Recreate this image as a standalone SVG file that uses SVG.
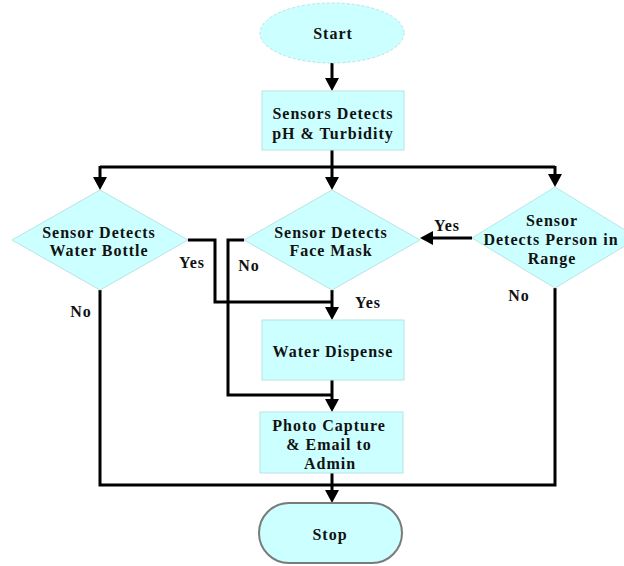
<svg xmlns="http://www.w3.org/2000/svg" width="624" height="566" viewBox="0 0 624 566">
<defs>
<marker id="arr" viewBox="0 0 13 14" refX="9" refY="7" markerWidth="13" markerHeight="14" markerUnits="userSpaceOnUse" orient="auto">
<path d="M0,0 L13,7 L0,14 z" fill="#000"/>
</marker>
<style>
.n{fill:#ccffff;stroke:#b8e4e4;stroke-width:1}
.t{font-family:"Liberation Serif","Times New Roman",serif;font-weight:bold;font-size:16px;letter-spacing:1px;fill:#111;text-anchor:middle;dominant-baseline:central}
.l{font-family:"Liberation Serif","Times New Roman",serif;font-weight:bold;font-size:16px;letter-spacing:1px;fill:#111;text-anchor:middle;dominant-baseline:central}
.c{fill:none;stroke:#000;stroke-width:3}
.a{marker-end:url(#arr)}
</style>
</defs>
<rect width="624" height="566" fill="#fff"/>
<g id="connectors">
<path class="c a" d="M332,63 V87"/>
<path class="c" d="M332,150 V167"/>
<path class="c" d="M100,167 H555"/>
<path class="c a" d="M100,166 V186"/>
<path class="c a" d="M555,166 V183"/>
<path class="c a" d="M332,167 V186"/>
<path class="c a" d="M472,238 H424"/>
<path class="c" d="M188,240 H215 V302 H332"/>
<path class="c a" d="M332,290 V316"/>
<path class="c" d="M244,240 H228 V395 H332"/>
<path class="c a" d="M332,380 V408"/>
<path class="c" d="M100,290 V485 H555 V288"/>
<path class="c a" d="M332,473 V499"/>
</g>
<g id="labels">
<text class="l" x="192" y="262">Yes</text>
<text class="l" x="249" y="265">No</text>
<text class="l" x="81" y="311">No</text>
<text class="l" x="368" y="302">Yes</text>
<text class="l" x="447" y="225">Yes</text>
<text class="l" x="519" y="295">No</text>
</g>
<g id="start">
<ellipse class="n" cx="332" cy="33" rx="72" ry="30" stroke="#b0d0d0" stroke-dasharray="3 2"/>
<text class="t" x="333" y="33">Start</text>
</g>
<g id="sensors">
<rect class="n" x="262" y="91" width="142" height="59"/>
<text class="t" x="333" y="113">Sensors Detects</text>
<text class="t" x="333" y="133">pH &amp; Turbidity</text>
</g>
<g id="bottle">
<polygon class="n" points="100,190 188,240 100,290 12,240"/>
<text class="t" x="99" y="232">Sensor Detects</text>
<text class="t" x="99" y="250">Water Bottle</text>
</g>
<g id="mask">
<polygon class="n" points="332,190 420,240 332,290 244,240"/>
<text class="t" x="331" y="232">Sensor Detects</text>
<text class="t" x="331" y="250">Face Mask</text>
</g>
<g id="person">
<polygon class="n" points="555,187 638,238 555,288 472,238"/>
<text class="t" x="552" y="220">Sensor</text>
<text class="t" x="551" y="239">Detects Person in</text>
<text class="t" x="552" y="258">Range</text>
</g>
<g id="dispense">
<rect class="n" x="262" y="320" width="142" height="60"/>
<text class="t" x="333" y="351">Water Dispense</text>
</g>
<g id="photo">
<rect class="n" x="260" y="412" width="143" height="61"/>
<text class="t" x="329" y="425">Photo Capture</text>
<text class="t" x="329" y="444">&amp; Email to</text>
<text class="t" x="330" y="463">Admin</text>
</g>
<g id="stop">
<rect x="259" y="503" width="143" height="60" rx="30" ry="30" fill="#ccffff" stroke="#7a7a7a" stroke-width="2"/>
<text class="t" x="330" y="534">Stop</text>
</g>
</svg>
